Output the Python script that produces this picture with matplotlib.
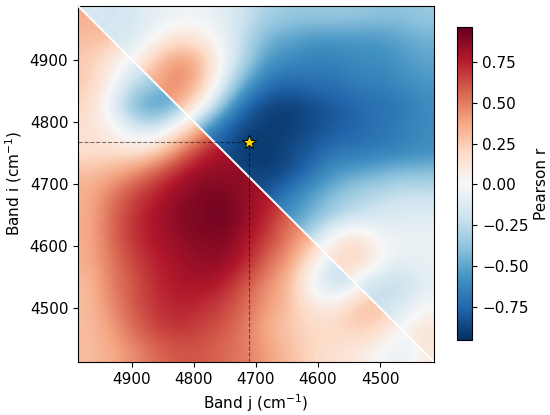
import numpy as np
import matplotlib.pyplot as plt
from matplotlib.patches import Polygon

# band range (cm-1), shown high -> low on x
band_lo = 4413
band_hi = 4987
ticks = [4900, 4800, 4700, 4600, 4500]
star_j = 4711
star_i = 4767
vmin, vmax = -0.95, 0.96
cb_ticks = [-0.75, -0.5, -0.25, 0.0, 0.25, 0.5, 0.75]

# correlation, rows top (high i) to bottom,
# cols left (high j) to right. upper_rows[r] = cols r..15, lower_rows[r] = cols 0..r
upper_rows = [
    [-0.15, -0.18, -0.15, -0.08, -0.05, -0.05, -0.1, -0.2, -0.3, -0.35, -0.35, -0.35, -0.35, -0.38, -0.38, -0.35],
    [-0.15, -0.15, 0.0, 0.15, 0.1, -0.05, -0.25, -0.45, -0.5, -0.55, -0.55, -0.55, -0.55, -0.5, -0.45],
    [0.0, 0.3, 0.45, 0.35, 0.0, -0.3, -0.55, -0.6, -0.65, -0.65, -0.6, -0.6, -0.55, -0.5],
    [0.35, 0.5, 0.3, -0.1, -0.5, -0.7, -0.75, -0.7, -0.7, -0.65, -0.65, -0.6, -0.55],
    [0.35, 0.1, -0.4, -0.75, -0.88, -0.9, -0.85, -0.8, -0.75, -0.7, -0.7, -0.6],
    [-0.5, -0.75, -0.88, -0.9, -0.9, -0.85, -0.8, -0.75, -0.7, -0.65, -0.6],
    [-0.8, -0.92, -0.92, -0.85, -0.8, -0.7, -0.7, -0.68, -0.65, -0.6],
    [-0.85, -0.9, -0.85, -0.7, -0.55, -0.5, -0.45, -0.4, -0.4],
    [-0.8, -0.65, -0.5, -0.4, -0.3, -0.25, -0.2, -0.2],
    [-0.55, -0.45, -0.3, -0.2, -0.15, -0.12, -0.1],
    [-0.2, 0.1, 0.2, 0.0, -0.05, -0.05],
    [0.15, 0.25, 0.05, -0.1, -0.05],
    [-0.1, -0.25, -0.25, -0.1],
    [-0.2, -0.15, 0.0],
    [0.0, 0.15],
    [0.1],
]
lower_rows = [
    [0.35],
    [0.3, 0.3],
    [0.25, 0.1, -0.05],
    [0.25, 0.05, -0.25, -0.3],
    [0.2, -0.1, -0.45, -0.6, -0.45],
    [0.15, 0.05, -0.15, -0.2, 0.1, 0.3],
    [0.15, 0.15, 0.12, 0.2, 0.45, 0.7, 0.8],
    [0.3, 0.35, 0.45, 0.6, 0.75, 0.85, 0.85, 0.85],
    [0.35, 0.5, 0.65, 0.75, 0.85, 0.9, 0.9, 0.85, 0.75],
    [0.35, 0.55, 0.7, 0.8, 0.88, 0.9, 0.95, 0.85, 0.75, 0.5],
    [0.35, 0.55, 0.7, 0.78, 0.85, 0.88, 0.9, 0.8, 0.65, 0.5, 0.3],
    [0.35, 0.5, 0.65, 0.75, 0.8, 0.85, 0.85, 0.75, 0.55, 0.4, 0.1, -0.2],
    [0.3, 0.5, 0.6, 0.72, 0.78, 0.8, 0.75, 0.6, 0.45, 0.3, -0.05, -0.25, -0.1],
    [0.3, 0.45, 0.6, 0.7, 0.75, 0.72, 0.65, 0.55, 0.4, 0.3, 0.1, 0.1, 0.3, 0.3],
    [0.3, 0.4, 0.55, 0.65, 0.7, 0.65, 0.6, 0.5, 0.35, 0.25, 0.2, 0.2, 0.25, 0.2, 0.0],
    [0.3, 0.35, 0.45, 0.55, 0.6, 0.6, 0.55, 0.5, 0.4, 0.3, 0.2, 0.15, 0.1, 0.0, -0.1, 0.1],
]

n = len(upper_rows)
U = np.zeros((n, n))
L = np.zeros((n, n))
for r in range(n):
    U[r, r:] = upper_rows[r]
    L[r, :r + 1] = lower_rows[r]
# mirror each half over the diagonal so the smoothing has something to lean on
U = U + np.triu(U, 1).T
L = L + np.tril(L, -1).T

fig = plt.figure(figsize=(5.5, 4.15), dpi=100)
ax = fig.add_axes([0.1418, 0.1277, 0.6473, 0.8586])
cax = fig.add_axes([0.8303, 0.1807, 0.0284, 0.7535])

ext = [band_hi, band_lo, band_lo, band_hi]
im_u = ax.imshow(U, cmap='RdBu_r', vmin=vmin, vmax=vmax, extent=ext,
                 interpolation='bicubic', origin='upper')
im_l = ax.imshow(L, cmap='RdBu_r', vmin=vmin, vmax=vmax, extent=ext,
                 interpolation='bicubic', origin='upper')
tri_u = Polygon([(band_hi, band_hi), (band_lo, band_hi), (band_lo, band_lo)],
                closed=True, transform=ax.transData)
tri_l = Polygon([(band_hi, band_hi), (band_hi, band_lo), (band_lo, band_lo)],
                closed=True, transform=ax.transData)
im_u.set_clip_path(tri_u)
im_l.set_clip_path(tri_l)

ax.plot([band_hi, band_lo], [band_hi, band_lo], color='white', lw=1.4, zorder=3)

ax.plot([band_hi, star_j], [star_i, star_i], ls='--', color='k', alpha=0.5, lw=0.8, zorder=4)
ax.plot([star_j, star_j], [band_lo, star_i], ls='--', color='k', alpha=0.5, lw=0.8, zorder=4)
ax.plot(star_j, star_i, marker='*', ms=10, mfc='gold', mec='black', mew=0.7, zorder=5)

ax.set_xlim(band_hi, band_lo)
ax.set_ylim(band_lo, band_hi)
ax.set_xticks(ticks)
ax.set_yticks(ticks)
ax.tick_params(labelsize=11)
ax.set_xlabel('Band j (cm$^{-1}$)', fontsize=11)
ax.set_ylabel('Band i (cm$^{-1}$)', fontsize=11)

cb = fig.colorbar(im_u, cax=cax)
cb.set_ticks(cb_ticks)
cb.ax.tick_params(labelsize=11)
cb.set_label('Pearson r', fontsize=11)

fig.savefig('out.png', dpi=100)
